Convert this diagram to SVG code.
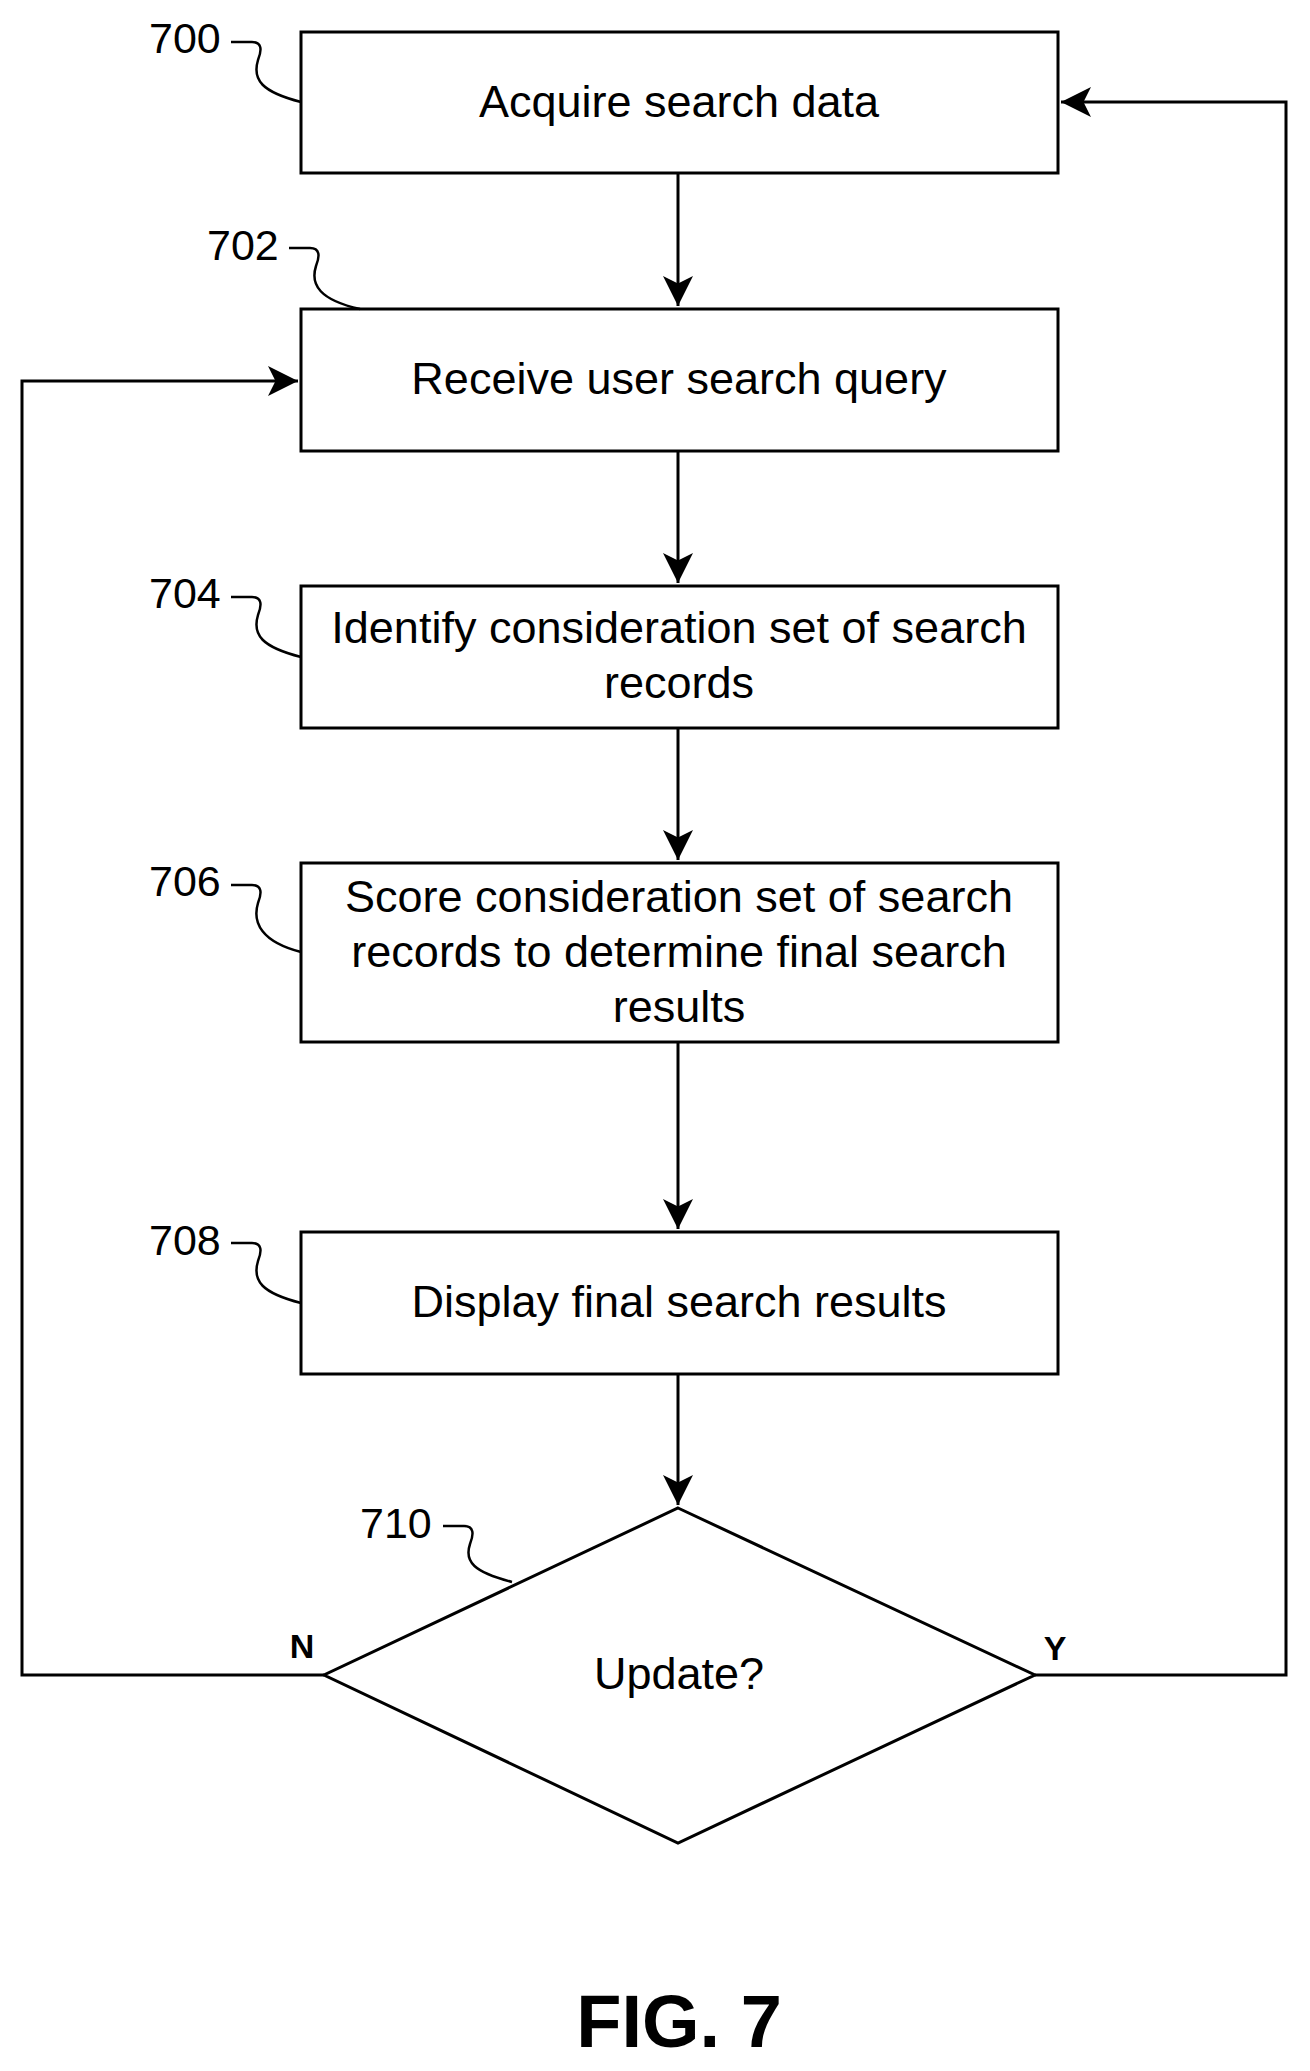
<svg xmlns="http://www.w3.org/2000/svg" width="1310" height="2071" viewBox="0 0 1310 2071">
<style>
.b{fill:#fff;stroke:#000;stroke-width:3}
.t{font-family:"Liberation Sans",Arial,sans-serif;font-size:45px;text-anchor:middle;fill:#000}
.r{font-family:"Liberation Sans",Arial,sans-serif;font-size:43px;fill:#000}
.c{fill:none;stroke:#000;stroke-width:3}
.l{fill:none;stroke:#000;stroke-width:2.5}
</style>
<defs><marker id="m" viewBox="0 0 12 12" refX="12" refY="6" markerWidth="10" markerHeight="10" orient="auto"><path d="M0,0L12,6L0,12L3,6z"/></marker></defs>
<rect width="1310" height="2071" fill="#fff"/>
<g id="connectors">
<path class="c" d="M678,173V306" marker-end="url(#m)"/>
<path class="c" d="M678,451V583" marker-end="url(#m)"/>
<path class="c" d="M678,728V860" marker-end="url(#m)"/>
<path class="c" d="M678,1042V1229" marker-end="url(#m)"/>
<path class="c" d="M678,1374V1505" marker-end="url(#m)"/>
<path class="c" d="M324,1675H22V381H298" marker-end="url(#m)"/>
<path class="c" d="M1035,1675H1286V102H1061" marker-end="url(#m)"/>
</g>
<g id="n700"><rect class="b" x="301" y="32" width="757" height="141"/><text class="t" x="679" y="117">Acquire search data</text>
<text class="r" x="149" y="53">700</text><path class="l" d="M231,42H252C262,42 262,50 258,60C252,80 262,92 301,102"/></g>
<g id="n702"><rect class="b" x="301" y="309" width="757" height="142"/><text class="t" x="679" y="394">Receive user search query</text>
<text class="r" x="207" y="260">702</text><path class="l" d="M289,248H310C320,248 320,256 316,266C310,285 320,300 360,309"/></g>
<g id="n704"><rect class="b" x="301" y="586" width="757" height="142"/><text class="t" x="679" y="643">Identify consideration set of search</text><text class="t" x="679" y="698">records</text>
<text class="r" x="149" y="608">704</text><path class="l" d="M231,597H252C262,597 262,605 258,615C252,635 262,647 301,657"/></g>
<g id="n706"><rect class="b" x="301" y="863" width="757" height="179"/><text class="t" x="679" y="912">Score consideration set of search</text><text class="t" x="679" y="967">records to determine final search</text><text class="t" x="679" y="1022">results</text>
<text class="r" x="149" y="896">706</text><path class="l" d="M231,885H252C262,885 262,893 258,903C252,923 262,942 301,952"/></g>
<g id="n708"><rect class="b" x="301" y="1232" width="757" height="142"/><text class="t" x="679" y="1317">Display final search results</text>
<text class="r" x="149" y="1255">708</text><path class="l" d="M231,1243H252C262,1243 262,1251 258,1261C252,1281 262,1293 301,1303"/></g>
<g id="n710"><path class="b" d="M678,1508L1035,1675L678,1843L324,1675z"/><text class="t" x="679" y="1689">Update?</text>
<text class="r" x="360" y="1538">710</text><path class="l" d="M443,1526H464C474,1526 474,1534 470,1544C464,1562 474,1572 512,1582"/>
<text class="t" x="302" y="1658" style="font-size:34px;font-weight:bold">N</text>
<text class="t" x="1055" y="1660" style="font-size:34px;font-weight:bold">Y</text></g>
<text class="t" x="679" y="2047" style="font-size:74px;font-weight:bold">FIG. 7</text>
</svg>
